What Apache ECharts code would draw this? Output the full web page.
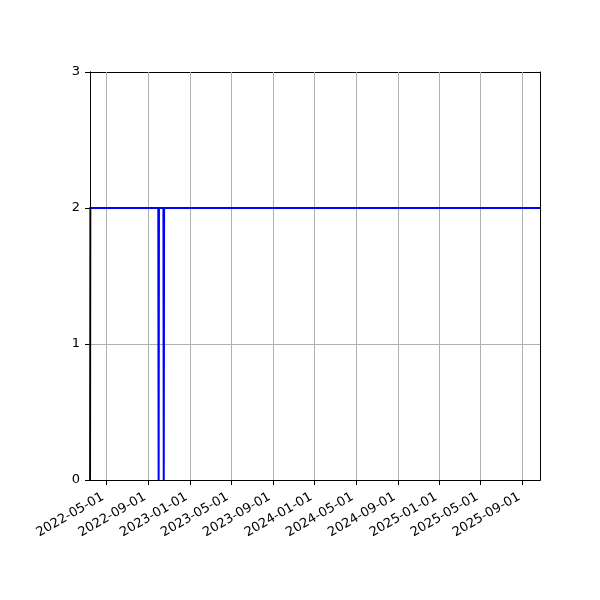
<!DOCTYPE html>
<html>
<head>
<meta charset="utf-8">
<script src="https://cdn.jsdelivr.net/npm/echarts@6/dist/echarts.min.js"></script>
<style>
html,body{margin:0;padding:0;background:#fff;}
#chart{width:600px;height:600px;}
</style>
</head>
<body>
<div id="chart"></div>
<script>
// Data (daily series, listed at its change points)
const pointDates = ['2022-03-14', '2022-03-15', '2022-09-30', '2022-10-01', '2022-10-02', '2022-10-15', '2022-10-16', '2022-10-17', '2025-10-22'];
const pointValues = [0, 2, 2, 0, 2, 2, 0, 2, 2];
const xTickLabels = ['2022-05-01','2022-09-01','2023-01-01','2023-05-01','2023-09-01','2024-01-01','2024-05-01','2024-09-01','2025-01-01','2025-05-01','2025-09-01'];
const yTicks = [0, 1, 2, 3];
const xMinDate = '2022-03-14';
const xMaxDate = '2025-10-22';

const ts = s => Date.parse(s);
const seriesData = pointDates.map((d, i) => [ts(d), pointValues[i]]);
const tickTs = xTickLabels.map(ts);
const pad2 = n => (n < 10 ? '0' : '') + n;
const fmt = v => { const d = new Date(v); return d.getUTCFullYear() + '-' + pad2(d.getUTCMonth() + 1) + '-' + pad2(d.getUTCDate()); };

const FONT = 'DejaVu Sans';
const chart = echarts.init(document.getElementById('chart'));
chart.setOption({
  animation: false,
  backgroundColor: '#fff',
  grid: { left: 90, right: 60, top: 72, bottom: 120, containLabel: false },
  xAxis: [
    {
      type: 'value', position: 'bottom', scale: true,
      min: ts(xMinDate), max: ts(xMaxDate),
      axisLine: { show: true, onZero: false, lineStyle: { color: '#000', width: 1 } },
      axisTick: { show: true, inside: false, length: 5, customValues: tickTs, lineStyle: { color: '#000', width: 1 } },
      axisLabel: {
        show: true, customValues: tickTs, rotate: 30, margin: 14,
        fontFamily: FONT, fontSize: 13, color: '#000',
        padding: [0, 4, 0, 0],
        formatter: v => fmt(v), hideOverlap: false
      },
      splitLine: { show: false }
    },
    {
      type: 'value', position: 'top', scale: true,
      min: ts(xMinDate), max: ts(xMaxDate),
      axisLine: { show: true, onZero: false, lineStyle: { color: '#000', width: 1 } },
      axisTick: { show: false }, axisLabel: { show: false }, splitLine: { show: false }
    },
    {
      type: 'value', position: 'bottom', scale: true, z: 10,
      min: ts(xMinDate), max: ts(xMaxDate),
      axisLine: { show: true, onZero: false, lineStyle: { color: '#000', width: 1 } },
      axisTick: { show: false }, axisLabel: { show: false }, splitLine: { show: false }
    }
  ],
  yAxis: [
    {
      type: 'value', position: 'left',
      min: yTicks[0], max: yTicks[yTicks.length - 1], interval: 1,
      axisLine: { show: true, onZero: false, lineStyle: { color: '#000', width: 1 } },
      axisTick: { show: true, inside: false, length: 5, lineStyle: { color: '#000', width: 1 } },
      axisLabel: { show: true, margin: 10, fontFamily: FONT, fontSize: 13, color: '#000' },
      splitLine: { show: true, lineStyle: { color: '#b0b0b0', width: 1 } }
    },
    {
      type: 'value', position: 'right',
      min: yTicks[0], max: yTicks[yTicks.length - 1], interval: 1,
      axisLine: { show: true, onZero: false, lineStyle: { color: '#000', width: 1 } },
      axisTick: { show: false }, axisLabel: { show: false }, splitLine: { show: false }
    },
    {
      type: 'value', position: 'left', z: 10,
      min: yTicks[0], max: yTicks[yTicks.length - 1], interval: 1,
      axisLine: { show: true, onZero: false, lineStyle: { color: '#000', width: 1 } },
      axisTick: { show: false }, axisLabel: { show: false }, splitLine: { show: false }
    }
  ],
  series: [
    {
      type: 'line',
      xAxisIndex: 0, yAxisIndex: 0,
      data: seriesData,
      showSymbol: false,
      symbol: 'none',
      clip: true,
      lineStyle: { color: '#0000ff', width: 2, join: 'miter' },
      z: 2,
      markLine: {
        silent: true, symbol: 'none', z: 1,
        label: { show: false },
        lineStyle: { color: '#b0b0b0', width: 1, type: 'solid' },
        data: tickTs.map(t => ({ xAxis: t }))
      }
    }
  ]
});
</script>
</body>
</html>
